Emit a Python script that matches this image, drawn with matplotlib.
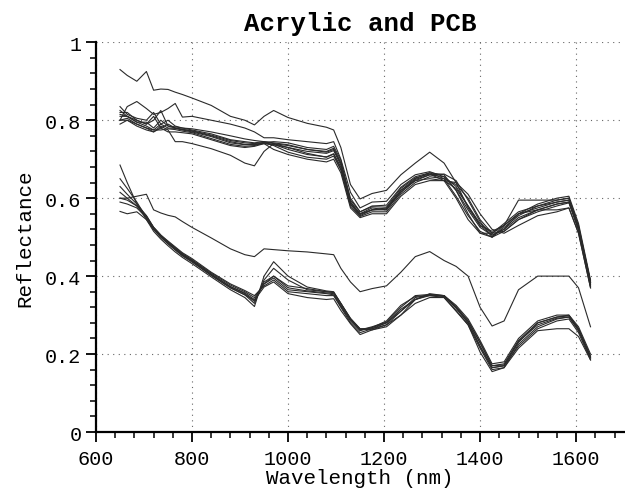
import matplotlib
matplotlib.use("Agg")
import matplotlib.pyplot as plt
from matplotlib.ticker import MultipleLocator

# Wavelength knots (nm) shared by all spectra
wavelength = [650, 665, 685, 705, 720, 735, 750, 765, 780, 800, 840, 880, 910, 930, 950, 970,
              1000, 1040, 1080, 1095, 1110, 1130, 1150, 1175, 1205, 1235, 1265, 1295, 1325,
              1350, 1375, 1400, 1425, 1450, 1480, 1520, 1560, 1585, 1605, 1630]

# Acrylic spectra (upper group)
acrylic_0 = [.93, .915, .90, .925, .877, .88, .879, .872, .866, .857, .838, .81, .80, .788, .81, .825,
             .807, .792, .782, .775, .73, .635, .598, .612, .62, .66, .69, .718, .69,
             .64, .575, .53, .515, .53, .595, .595, .595, .60, .53, .385]
acrylic_1 = [.80, .835, .848, .83, .815, .82, .83, .843, .808, .81, .80, .79, .78, .77, .755, .755,
             .75, .745, .74, .745, .70, .615, .575, .59, .592, .635, .66, .668, .655,
             .62, .57, .525, .505, .52, .56, .585, .60, .605, .535, .39]
acrylic_2 = [.835, .815, .805, .80, .82, .79, .80, .785, .78, .778, .77, .76, .752, .748, .745, .74,
             .735, .725, .72, .728, .69, .60, .565, .58, .582, .628, .655, .665, .65,
             .605, .555, .515, .50, .525, .555, .58, .595, .60, .525, .385]
acrylic_3 = [.82, .82, .80, .79, .80, .825, .785, .783, .78, .775, .765, .75, .745, .742, .745, .742,
             .737, .725, .718, .725, .69, .59, .56, .575, .57, .62, .65, .665, .66,
             .62, .56, .51, .50, .53, .56, .575, .59, .595, .52, .38]
acrylic_4 = [.81, .81, .795, .785, .775, .79, .78, .779, .775, .77, .758, .742, .737, .738, .742, .738,
             .725, .712, .706, .714, .68, .585, .555, .57, .57, .615, .645, .66, .655,
             .63, .58, .53, .505, .52, .55, .57, .585, .59, .52, .375]
acrylic_5 = [.80, .805, .79, .78, .775, .775, .778, .776, .772, .768, .753, .738, .733, .735, .742, .735,
             .718, .705, .70, .708, .672, .58, .553, .565, .565, .61, .64, .655, .65,
             .635, .60, .545, .51, .515, .545, .565, .58, .588, .52, .375]
acrylic_6 = [.79, .80, .79, .78, .77, .78, .77, .77, .768, .765, .75, .735, .73, .733, .74, .725,
             .712, .70, .693, .70, .665, .575, .55, .56, .56, .605, .635, .645, .645,
             .64, .61, .56, .52, .51, .53, .555, .565, .575, .51, .37]
acrylic_7 = [.80, .80, .785, .775, .77, .785, .775, .745, .745, .74, .727, .71, .69, .683, .72, .74,
             .73, .715, .705, .713, .675, .585, .56, .57, .575, .62, .645, .65, .645,
             .625, .58, .535, .51, .53, .56, .57, .57, .575, .51, .37]
acrylic_8 = [.815, .81, .80, .79, .81, .78, .79, .78, .776, .773, .762, .748, .742, .74, .743, .745,
             .742, .73, .725, .733, .697, .595, .565, .578, .577, .625, .652, .662, .645,
             .60, .545, .51, .51, .535, .565, .58, .59, .595, .525, .385]
acrylic_9 = [.825, .81, .795, .795, .78, .80, .785, .78, .777, .772, .76, .745, .738, .737, .74, .737,
             .73, .72, .715, .722, .685, .59, .558, .57, .573, .615, .648, .66, .662,
             .645, .595, .54, .50, .515, .545, .57, .585, .59, .52, .38]

# PCB spectra (lower group)
pcb_0 = [.60, .60, .605, .61, .57, .562, .556, .552, .54, .525, .498, .47, .455, .45, .47, .468,
         .465, .462, .457, .455, .42, .385, .36, .368, .375, .41, .45, .463, .44,
         .425, .40, .32, .272, .285, .365, .40, .40, .40, .37, .27]
pcb_1 = [.685, .64, .585, .545, .515, .495, .478, .462, .448, .432, .398, .365, .345, .322, .40, .437,
         .40, .372, .362, .36, .33, .292, .265, .262, .27, .30, .34, .355, .35,
         .32, .285, .23, .17, .175, .235, .28, .295, .298, .265, .195]
pcb_2 = [.65, .625, .59, .55, .52, .50, .483, .467, .452, .436, .402, .37, .352, .33, .39, .42,
         .39, .365, .36, .358, .33, .29, .265, .265, .275, .31, .345, .352, .35,
         .325, .29, .235, .175, .18, .24, .285, .30, .30, .27, .20]
pcb_3 = [.63, .61, .585, .555, .525, .505, .487, .471, .456, .44, .405, .373, .355, .335, .385, .40,
         .375, .368, .36, .358, .33, .29, .262, .27, .282, .32, .35, .353, .348,
         .318, .28, .22, .165, .17, .23, .28, .295, .30, .265, .19]
pcb_4 = [.615, .60, .58, .555, .525, .505, .488, .473, .458, .442, .408, .377, .36, .345, .38, .395,
         .365, .36, .355, .352, .322, .285, .26, .268, .285, .325, .348, .35, .345,
         .312, .275, .215, .16, .165, .225, .27, .29, .295, .26, .19]
pcb_5 = [.59, .585, .575, .55, .525, .505, .49, .475, .46, .445, .41, .38, .363, .35, .375, .39,
         .36, .355, .35, .35, .32, .28, .255, .265, .28, .315, .34, .35, .348,
         .318, .28, .22, .165, .17, .22, .265, .285, .29, .255, .185]
pcb_6 = [.566, .56, .565, .545, .52, .50, .483, .468, .453, .438, .402, .37, .352, .338, .372, .385,
         .355, .345, .34, .342, .312, .278, .25, .262, .275, .30, .33, .345, .345,
         .31, .275, .205, .155, .165, .215, .26, .265, .265, .245, .185]
pcb_7 = [.60, .595, .58, .552, .523, .503, .486, .47, .455, .44, .405, .373, .357, .34, .38, .40,
         .37, .362, .357, .355, .325, .288, .262, .268, .28, .31, .34, .352, .35,
         .322, .285, .228, .17, .172, .232, .275, .292, .295, .262, .192]

spectra = [acrylic_0, acrylic_1, acrylic_2, acrylic_3, acrylic_4, acrylic_5, acrylic_6,
           acrylic_7, acrylic_8, acrylic_9,
           pcb_0, pcb_1, pcb_2, pcb_3, pcb_4, pcb_5, pcb_6, pcb_7]

x_major = [600, 800, 1000, 1200, 1400, 1600]
y_major = [0, 0.2, 0.4, 0.6, 0.8, 1.0]
y_labels = ["0", "0.2", "0.4", "0.6", "0.8", "1"]

FONT = "Liberation Mono"

fig = plt.figure(figsize=(6.25, 4.89), dpi=100)
ax = fig.add_axes([0.1536, 0.1145, 0.845, 0.797])

for s in spectra:
    ax.plot(wavelength, s, color="#2a2a2a", lw=0.8)

ax.set_xlim(600, 1700)
ax.set_ylim(0, 1)
ax.set_xticks(x_major)
ax.set_yticks(y_major)
ax.set_yticklabels(y_labels)
ax.xaxis.set_minor_locator(MultipleLocator(40))
ax.yaxis.set_minor_locator(MultipleLocator(0.04))
ax.grid(True, which="major", linestyle=(0, (1, 4)), color="#666666", lw=0.8)
for side in ("top", "right"):
    ax.spines[side].set_visible(False)
for side in ("left", "bottom"):
    ax.spines[side].set_linewidth(1.6)
ax.tick_params(which="major", direction="out", length=7, width=1.3, labelsize=14.5)
ax.tick_params(axis="x", which="major", pad=5)
ax.tick_params(which="minor", direction="out", length=4, width=1.1)
for lab in ax.get_xticklabels() + ax.get_yticklabels():
    lab.set_fontfamily(FONT)

ax.set_xlabel("Wavelength (nm)", fontfamily=FONT, fontsize=15, labelpad=0)
ax.set_ylabel("Reflectance", fontfamily=FONT, fontsize=15, labelpad=8)
ax.set_title("Acrylic and PCB", fontfamily=FONT, fontweight="bold", fontsize=18.5, pad=9)

fig.savefig("out.png", dpi=100)
